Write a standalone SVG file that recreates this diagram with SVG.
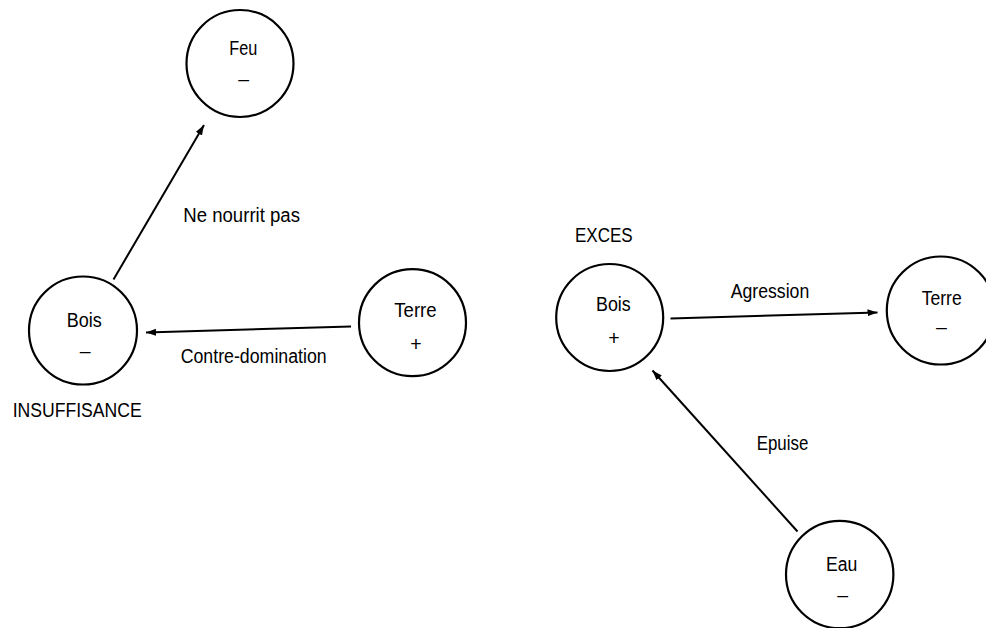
<svg xmlns="http://www.w3.org/2000/svg" width="986" height="628" viewBox="0 0 986 628">
<style>
.n{fill:#fff;stroke:#000;stroke-width:2.2}
.t{font-family:"Liberation Sans",Arial,sans-serif;font-size:19.5px;fill:#000}
.c{stroke:#000;stroke-width:2;fill:none}
</style>
<defs>
<marker id="ah" markerUnits="userSpaceOnUse" markerWidth="11" markerHeight="8" refX="10" refY="3.5" orient="auto">
<path d="M0,0 L10,3.5 L0,7 z" fill="#000"/>
</marker>
</defs>
<rect width="986" height="628" fill="#fff"/>
<g id="connectors">
<line class="c" x1="113.5" y1="279.5" x2="204" y2="125" marker-end="url(#ah)"/>
<line class="c" x1="351" y1="326.5" x2="146" y2="332.5" marker-end="url(#ah)"/>
<line class="c" x1="670.5" y1="318.5" x2="877.5" y2="312.5" marker-end="url(#ah)"/>
<line class="c" x1="797.5" y1="531.5" x2="652.5" y2="370.5" marker-end="url(#ah)"/>
<text class="t" x="183.3" y="221.7" textLength="116.7" lengthAdjust="spacingAndGlyphs">Ne nourrit pas</text>
<text class="t" x="180.7" y="363.3" textLength="146" lengthAdjust="spacingAndGlyphs">Contre-domination</text>
<text class="t" x="730.7" y="298.3" textLength="78.6" lengthAdjust="spacingAndGlyphs">Agression</text>
<text class="t" x="756.7" y="450" textLength="51.6" lengthAdjust="spacingAndGlyphs">Epuise</text>
</g>
<g id="feu">
<circle class="n" cx="240" cy="63.5" r="53.5"/>
<text class="t" x="229.3" y="55" textLength="28" lengthAdjust="spacingAndGlyphs">Feu</text>
<text class="t" x="243.8" y="86.4" text-anchor="middle">–</text>
</g>
<g id="bois-left">
<circle class="n" cx="83" cy="330.5" r="54"/>
<text class="t" x="66.7" y="326.7" textLength="35" lengthAdjust="spacingAndGlyphs">Bois</text>
<text class="t" x="85.3" y="358" text-anchor="middle">–</text>
<text class="t" x="12.7" y="416.7" textLength="129" lengthAdjust="spacingAndGlyphs">INSUFFISANCE</text>
</g>
<g id="terre-left">
<circle class="n" cx="412.5" cy="322.7" r="53.5"/>
<text class="t" x="394.3" y="316.7" textLength="42.3" lengthAdjust="spacingAndGlyphs">Terre</text>
<text class="t" x="416" y="351.4" text-anchor="middle">+</text>
</g>
<g id="bois-right">
<circle class="n" cx="609.7" cy="317.5" r="53.5"/>
<text class="t" x="596" y="310.7" textLength="34.7" lengthAdjust="spacingAndGlyphs">Bois</text>
<text class="t" x="614" y="344.7" text-anchor="middle">+</text>
<text class="t" x="575" y="241.7" textLength="57.7" lengthAdjust="spacingAndGlyphs">EXCES</text>
</g>
<g id="terre-right">
<circle class="n" cx="940.8" cy="310.5" r="54"/>
<text class="t" x="921.7" y="305" textLength="40" lengthAdjust="spacingAndGlyphs">Terre</text>
<text class="t" x="941.5" y="334" text-anchor="middle">–</text>
</g>
<g id="eau">
<circle class="n" cx="839.7" cy="574.5" r="53.7"/>
<text class="t" x="826" y="571" textLength="31.3" lengthAdjust="spacingAndGlyphs">Eau</text>
<text class="t" x="842.8" y="602.4" text-anchor="middle">–</text>
</g>
</svg>
